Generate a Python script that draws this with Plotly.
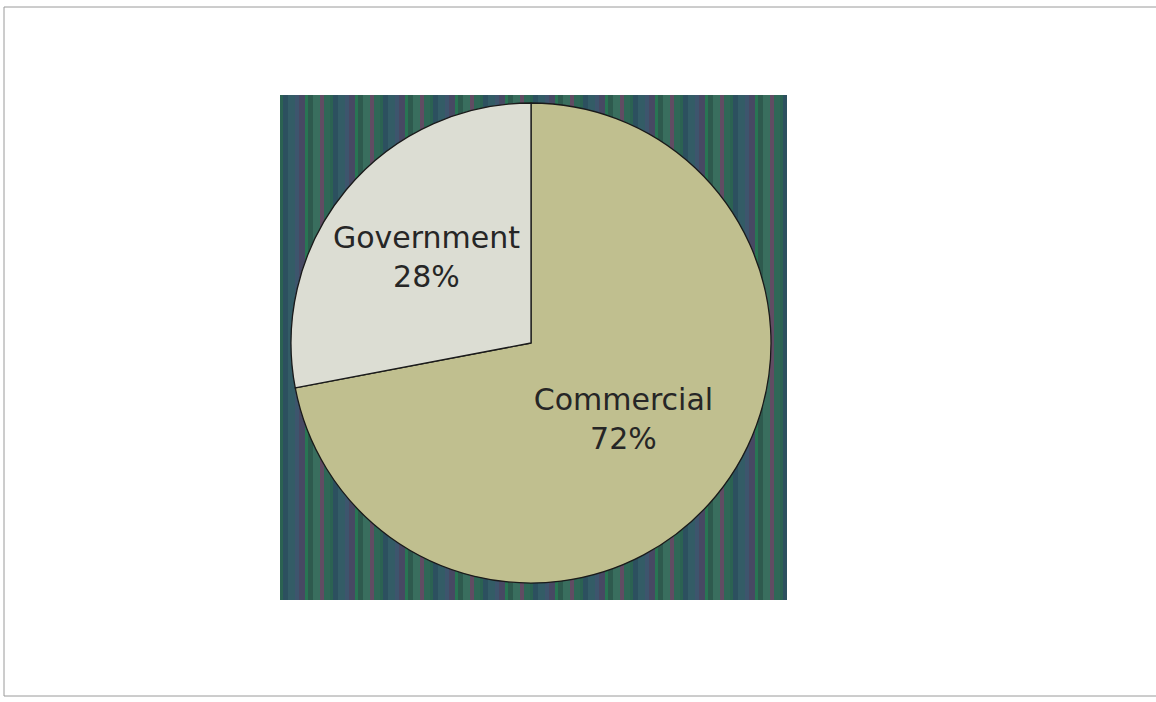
import plotly.graph_objects as go

# Data
labels = ["Commercial", "Government"]
values = [72, 28]
slice_colors = ["#c0bf8f", "#dcddd3"]

W, H = 1156, 702

fig = go.Figure()
fig.add_trace(go.Pie(
    labels=labels,
    values=values,
    sort=False,
    direction="clockwise",
    rotation=0,
    marker=dict(colors=slice_colors, line=dict(color="#1a1a1a", width=1.3)),
    texttemplate="%{label}<br>%{percent:.0%}",
    textposition="inside",
    insidetextorientation="horizontal",
    textfont=dict(family="DejaVu Sans", size=30, color="#262626"),
    hoverinfo="skip",
    showlegend=False,
    domain=dict(x=[(531 - 240) / W, (531 + 240) / W],
                y=[(H - 343 - 240) / H, (H - 343 + 240) / H]),
))

# Decorative background panel behind the pie (scanned stripe look)
shapes = []
px0, px1, py0, py1 = 280, 787, 95, 600
shapes.append(dict(type="rect", xref="paper", yref="paper", layer="below",
                   x0=px0 / W, x1=px1 / W, y0=(H - py1) / H, y1=(H - py0) / H,
                   fillcolor="#2f5a55", line=dict(width=0)))
stripe_palette = ["#2a6452", "#3b7260", "#4b4766", "#2c4f62", "#6a4a66",
                  "#287a55", "#345d6a", "#2f6a58", "#2e5a4d", "#3f5572"]
x = px0
i = 0
while x < px1:
    w = 3 + (i * 7) % 5
    shapes.append(dict(type="rect", xref="paper", yref="paper", layer="below",
                       x0=x / W, x1=min(x + w, px1) / W,
                       y0=(H - py1) / H, y1=(H - py0) / H,
                       fillcolor=stripe_palette[(i * 3) % len(stripe_palette)],
                       opacity=0.85, line=dict(width=0)))
    x += w
    i += 1

# Outer frame
shapes.append(dict(type="rect", xref="paper", yref="paper", layer="above",
                   x0=4 / W, x1=1.01, y0=(H - 696) / H, y1=(H - 7) / H,
                   fillcolor="rgba(0,0,0,0)", line=dict(color="#9a9a9a", width=1)))

fig.update_layout(
    width=W, height=H,
    margin=dict(l=0, r=0, t=0, b=0),
    paper_bgcolor="white",
    plot_bgcolor="white",
    shapes=shapes,
    uniformtext=dict(minsize=10, mode="show"),
)

fig.write_html("out.html")
